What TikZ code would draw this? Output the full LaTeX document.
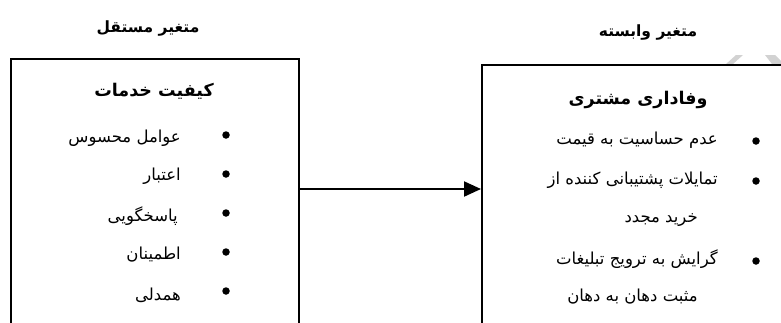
\documentclass[tikz,border=0pt]{standalone}
\usepackage{fontspec}
\usetikzlibrary{arrows.meta}
\TeXXeTstate=1
\newfontfamily\fa[Script=Arabic]{DejaVu Sans}
\begin{document}
\begin{tikzpicture}[x=1pt,y=-1pt,
  boxstyle/.style={draw=black,line width=2pt,fill=white,inner sep=0pt,anchor=north west},
  headstyle/.style={font=\fa\bfseries\fontsize{15.5}{18}\selectfont,inner sep=0pt},
  titlestyle/.style={font=\fa\bfseries\fontsize{17.5}{20}\selectfont,inner sep=0pt},
  itemstyle/.style={font=\fa\fontsize{16.5}{19}\selectfont,inner sep=0pt,anchor=east},
  dotstyle/.style={circle,fill=black,inner sep=0pt,minimum size=7.5pt},
  arrowstyle/.style={line width=2pt,-{Triangle[length=17pt,width=15pt]}}]
\useasboundingbox (0,0) rectangle (781,322);
\clip (0,0) rectangle (781,322);
% faint watermark pieces
\fill[gray!35] (726,64) -- (733,64) -- (743,55) -- (736,55) -- cycle;
\fill[gray!35] (765,55) -- (775,55) -- (781,61) -- (781,64) -- (772,64) -- cycle;
% boxes
\node[boxstyle,minimum width=288pt,minimum height=300pt] (L) at (10,58) {};
\node[boxstyle,minimum width=330pt,minimum height=300pt] (R) at (481,64) {};
% arrow
\coordinate (ay) at (0,189);
\draw[arrowstyle] (L.east |- ay) -- (R.west |- ay);
% headings
\node[headstyle] (hl) at (148,29) {\beginR متغیر مستقل\endR};
\node[headstyle] (hr) at (648,33) {\beginR متغیر وابسته\endR};
\node[titlestyle] (tl) at (154,91) {\beginR کیفیت خدمات\endR};
\node[titlestyle] (tr) at (638,100) {\beginR وفاداری مشتری\endR};
% left items
\node[dotstyle] (dl1) at (226,135) {};
\node[dotstyle] (dl2) at (226,174) {};
\node[dotstyle] (dl3) at (226,213) {};
\node[dotstyle] (dl4) at (226,252) {};
\node[dotstyle] (dl5) at (226,291) {};
\node[itemstyle] (il1) at (181,138) {\beginR عوامل محسوس\endR};
\node[itemstyle] (il2) at (181,176) {\beginR اعتبار\endR};
\node[itemstyle] (il3) at (178,216) {\beginR پاسخگویی\endR};
\node[itemstyle] (il4) at (181,255) {\beginR اطمینان\endR};
\node[itemstyle] (il5) at (181,295) {\beginR همدلی\endR};
% right items
\node[dotstyle] (dr1) at (756,141) {};
\node[dotstyle] (dr2) at (756,181) {};
\node[dotstyle] (dr3) at (756,261) {};
\node[itemstyle] (ir1) at (718,140) {\beginR عدم حساسیت به قیمت\endR};
\node[itemstyle] (ir2) at (718,180) {\beginR تمایلات پشتیبانی کننده از\endR};
\node[itemstyle] (ir2b) at (698,220) {\beginR خرید مجدد\endR};
\node[itemstyle] (ir3) at (718,259) {\beginR گرایش به ترویج تبلیغات\endR};
\node[itemstyle] (ir3b) at (698,297) {\beginR مثبت دهان به دهان\endR};
\end{tikzpicture}
\end{document}
